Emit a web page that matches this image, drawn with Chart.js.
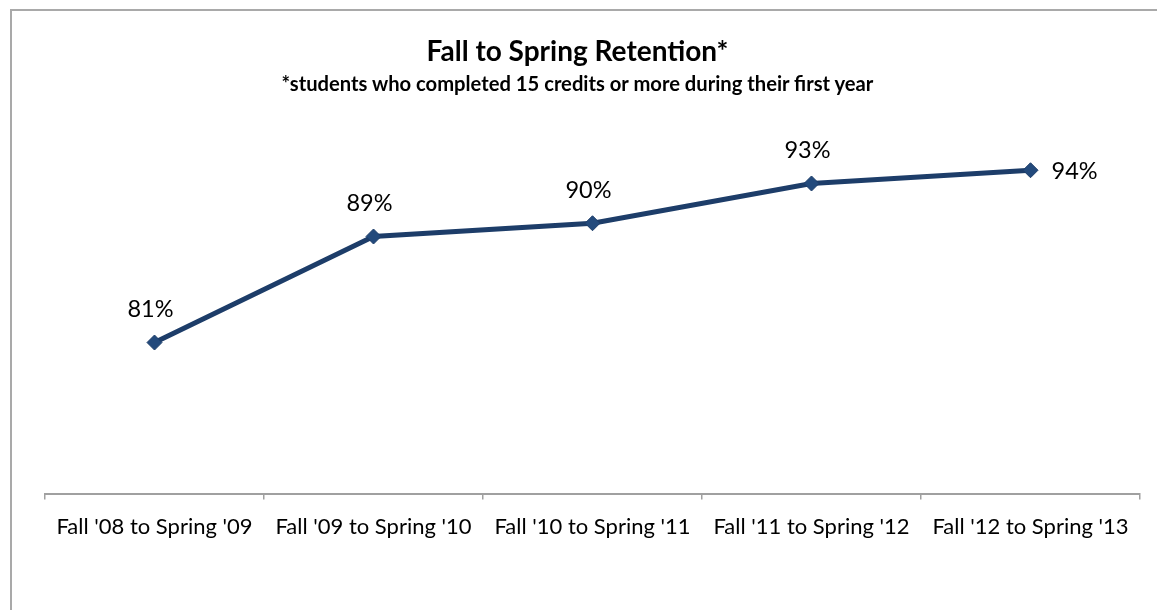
<!DOCTYPE html>
<html>
<head>
<meta charset="utf-8">
<script src="https://cdn.jsdelivr.net/npm/chart.js@4/dist/chart.umd.min.js"></script>
<style>
  html, body { margin: 0; padding: 0; background: #fff; }
  #wrap { position: relative; width: 1157px; height: 610px; overflow: hidden; }
  #frame { position: absolute; left: 10px; top: 9px; width: 1200px; height: 700px;
           border-left: 2px solid #a9a9a9; border-top: 2px solid #a9a9a9; box-sizing: border-box; }
  canvas { position: absolute; left: 0; top: 0; }
  .ttl { position: absolute; left: 0; width: 1155px; text-align: center; color: #000;
         font-family: Lato, 'Open Sans', sans-serif; font-weight: bold; white-space: nowrap; }
  #title { top: 33px; font-size: 28px; line-height: 34px; }
  #subtitle { top: 71px; font-size: 20.2px; line-height: 24px; }
</style>
</head>
<body>
<div id="wrap">
  <div id="frame"></div>
  <canvas id="c" width="1157" height="610"></canvas>
  <div class="ttl" id="title"></div>
  <div class="ttl" id="subtitle"></div>
</div>
<script>
const categories = ["Fall '08 to Spring '09", "Fall '09 to Spring '10", "Fall '10 to Spring '11", "Fall '11 to Spring '12", "Fall '12 to Spring '13"];
const retention = [81, 89, 90, 93, 94];
const titleText = "Fall to Spring Retention*";
const subtitleText = "*students who completed 15 credits or more during their first year";

document.getElementById('title').textContent = titleText;
document.getElementById('subtitle').textContent = subtitleText;

const FONT = "Lato, 'Open Sans', sans-serif";

const valueLabels = {
  id: 'valueLabels',
  afterDatasetsDraw(chart) {
    const ctx = chart.ctx;
    const meta = chart.getDatasetMeta(0);
    ctx.save();
    ctx.font = "23.5px " + FONT;
    ctx.fillStyle = '#000';
    ctx.textBaseline = 'middle';
    meta.data.forEach((pt, i) => {
      const txt = retention[i] + '%';
      if (i === meta.data.length - 1) {
        ctx.textAlign = 'left';
        ctx.fillText(txt, pt.x + 21, pt.y + 1);
      } else {
        ctx.textAlign = 'center';
        ctx.fillText(txt, pt.x - 4, pt.y - 33);
      }
    });
    ctx.restore();
  }
};

new Chart(document.getElementById('c'), {
  type: 'line',
  data: {
    labels: categories,
    datasets: [{
      data: retention,
      borderColor: '#1d3d69',
      borderWidth: 5,
      backgroundColor: '#1f497d',
      pointStyle: 'rectRot',
      pointRadius: 7.5,
      pointBackgroundColor: '#234a7c',
      pointBorderColor: '#1d3d69',
      pointBorderWidth: 1,
      tension: 0,
      fill: false
    }]
  },
  options: {
    responsive: false,
    animation: false,
    devicePixelRatio: 1,
    layout: { padding: { left: 45, right: 17, top: 100, bottom: 56 } },
    plugins: {
      legend: { display: false },
      tooltip: { enabled: false },
      title: { display: false },
      subtitle: { display: false }
    },
    scales: {
      x: {
        offset: true,
        grid: { offset: true, drawOnChartArea: false, tickLength: 6, color: '#a0a0a0', lineWidth: 1.5 },
        border: { color: '#a0a0a0', width: 2 },
        ticks: { color: '#000', font: { family: FONT, size: 22 }, padding: 14, maxRotation: 0, autoSkip: false }
      },
      y: { display: false, min: 69.6, max: 99.3 }
    }
  },
  plugins: [valueLabels]
});
</script>
</body>
</html>
